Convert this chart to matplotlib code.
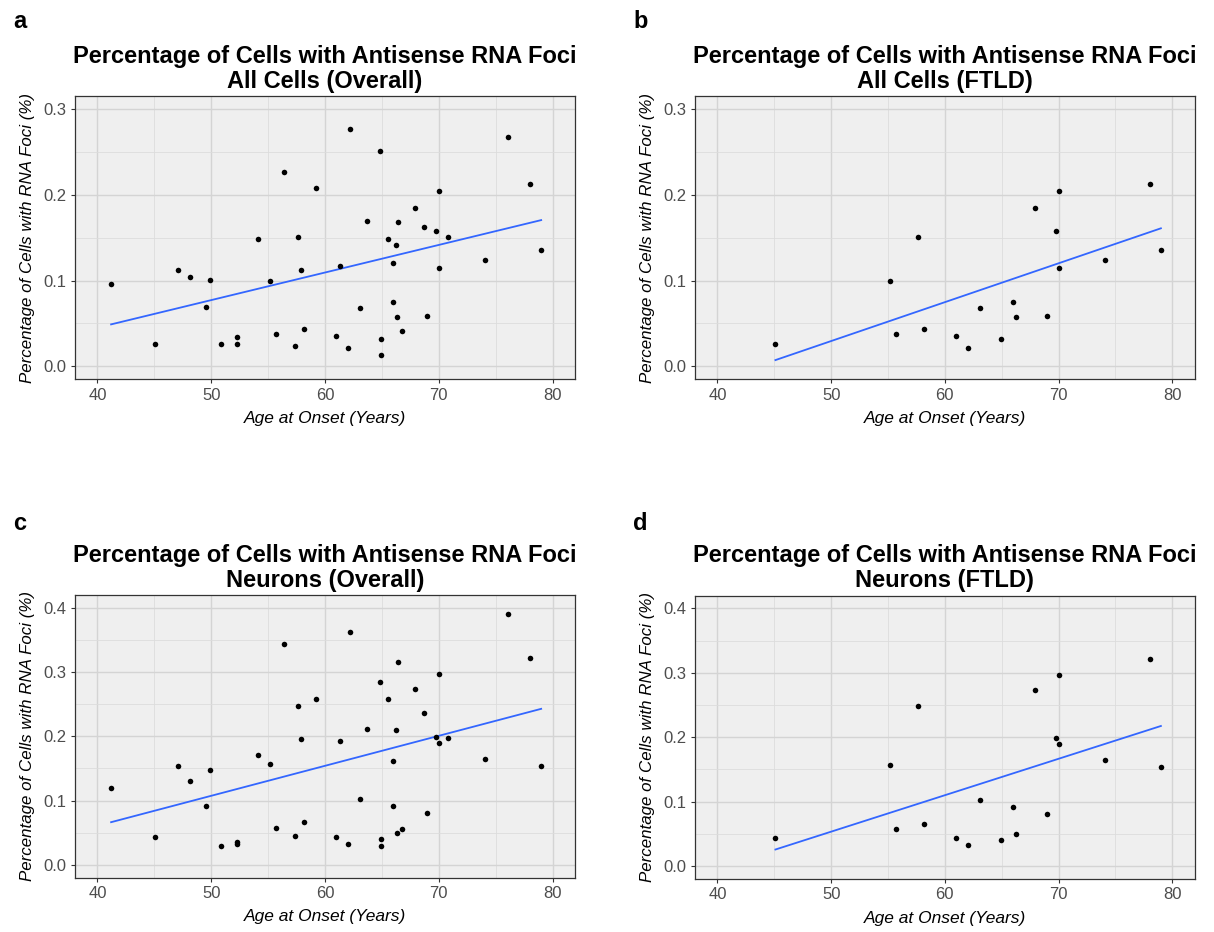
import numpy as np
import matplotlib.pyplot as plt
from matplotlib.ticker import MultipleLocator

plt.rcParams["font.family"] = ["Liberation Sans", "DejaVu Sans"]

# age at onset (years) for every case
age = [41.2, 45.1, 47.1, 48.1, 49.9, 49.5, 50.9, 52.3, 52.3, 54.1,
       55.15, 55.7, 56.4, 57.6, 57.4, 57.9, 58.15, 59.2, 62.2, 64.8,
       70.05, 76.1, 78.0, 67.95, 63.7, 66.4, 68.7, 69.8, 70.8, 65.5,
       66.2, 61.3, 65.95, 70.0, 74.05, 79.0, 65.95, 63.05, 66.3, 68.95,
       66.8, 61.0, 64.95, 62.0, 64.95]

# % of all cells with antisense foci
all_cells = [0.096, 0.026, 0.112, 0.104, 0.101, 0.069, 0.026, 0.034, 0.026, 0.149,
             0.099, 0.038, 0.227, 0.151, 0.024, 0.112, 0.044, 0.208, 0.276, 0.251,
             0.204, 0.267, 0.213, 0.185, 0.169, 0.168, 0.162, 0.158, 0.151, 0.149,
             0.141, 0.117, 0.120, 0.115, 0.124, 0.136, 0.075, 0.068, 0.057, 0.059,
             0.041, 0.036, 0.032, 0.022, 0.013]

# % of neurons with antisense foci
neurons = [0.120, 0.044, 0.154, 0.131, 0.147, 0.092, 0.030, 0.035, 0.032, 0.171,
           0.157, 0.058, 0.343, 0.248, 0.045, 0.196, 0.066, 0.258, 0.362, 0.285,
           0.297, 0.391, 0.322, 0.274, 0.212, 0.315, 0.237, 0.199, 0.197, 0.258,
           0.210, 0.192, 0.161, 0.190, 0.165, 0.154, 0.092, 0.102, 0.050, 0.081,
           0.056, 0.044, 0.040, 0.032, 0.030]

# 1 = FTLD case
ftld = [0, 1, 0, 0, 0, 0, 0, 0, 0, 0,
        1, 1, 0, 1, 0, 0, 1, 0, 0, 0,
        1, 0, 1, 1, 0, 0, 0, 1, 0, 0,
        0, 0, 0, 1, 1, 1, 1, 1, 1, 1,
        0, 1, 1, 1, 0]

age = np.array(age)
all_cells = np.array(all_cells)
neurons = np.array(neurons)
ftld = np.array(ftld, dtype=bool)

W, H = 1214, 932
fig = plt.figure(figsize=(W / 100, H / 100), dpi=100)


def box(l, t, r, b):
    return [l / W, 1 - b / H, (r - l) / W, (b - t) / H]


def panel(rect, x, y, ymax, title, letter, lx, ly):
    ax = fig.add_axes(rect)
    ax.set_facecolor("#EFEFEF")
    ax.grid(True, which="major", color="#D4D4D4", lw=1.0)
    ax.grid(True, which="minor", color="#DCDCDC", lw=0.6)
    ax.set_axisbelow(True)
    ax.set_xlim(38, 82)
    ax.set_ylim(-ymax * 0.05, ymax * 1.05)
    ax.xaxis.set_major_locator(MultipleLocator(10))
    ax.xaxis.set_minor_locator(MultipleLocator(5))
    ax.yaxis.set_major_locator(MultipleLocator(0.1))
    ax.yaxis.set_minor_locator(MultipleLocator(0.05))
    ax.yaxis.set_major_formatter(lambda v, p: f"{v:.1f}")
    ax.tick_params(which="major", length=3, width=0.8, color="#333333",
                   labelsize=12, labelcolor="#4D4D4D", pad=3)
    ax.tick_params(which="minor", length=0)
    for s in ax.spines.values():
        s.set_color("#333333")
        s.set_linewidth(0.9)

    # least squares line, like geom_smooth(method = "lm")
    k, c = np.polyfit(x, y, 1)
    xs = np.linspace(x.min(), x.max(), 50)
    ax.plot(xs, k * xs + c, color="#3366FF", lw=1.3, zorder=2)
    ax.scatter(x, y, s=16, color="black", zorder=3, linewidths=0)

    ax.set_xlabel("Age at Onset (Years)", style="italic", fontsize=12.5, labelpad=6)
    ax.set_ylabel("Percentage of Cells with RNA Foci (%)", style="italic",
                  fontsize=12.2, labelpad=6)
    ax.set_title(title, fontsize=17, fontweight="bold", linespacing=1.1, pad=6)
    fig.text(lx / W, 1 - ly / H, letter, fontsize=17, fontweight="bold",
             ha="left", va="center")
    return ax


head = "Percentage of Cells with Antisense RNA Foci\n"
panel(box(74.7, 96, 575.3, 379.3), age, all_cells, 0.3,
      head + "All Cells (Overall)", "a", 13, 21)
panel(box(694.7, 96, 1195, 379.3), age[ftld], all_cells[ftld], 0.3,
      head + "All Cells (FTLD)", "b", 633, 21)
panel(box(74.7, 595, 575.3, 877.7), age, neurons, 0.4,
      head + "Neurons (Overall)", "c", 13, 523)
panel(box(694.7, 595.5, 1195, 879), age[ftld], neurons[ftld], 0.4,
      head + "Neurons (FTLD)", "d", 633, 523)

fig.savefig("out.png", dpi=100, facecolor="white")
